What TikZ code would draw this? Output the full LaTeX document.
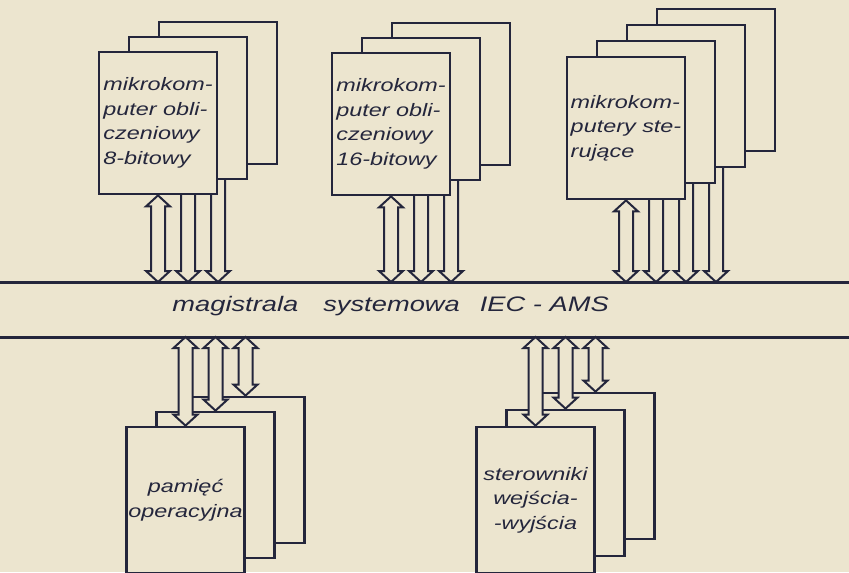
\documentclass[tikz,border=0pt]{standalone}
\usepackage{fontspec}
\newfontfamily\lettering{Liberation Sans}[FakeStretch=1.3]
\usetikzlibrary{calc}
\definecolor{paper}{RGB}{236,229,207}
\definecolor{ink}{RGB}{36,38,60}

\begin{document}
\begin{tikzpicture}[x=0.5pt, y=-0.5pt,
    card/.style={draw=ink, fill=paper, line width=1.4pt, minimum width=59pt,
      minimum height=71pt, inner sep=1pt, align=left,
      text=ink, font=\lettering\itshape\fontsize{9}{12.3}\selectfont},
    lowcard/.style={card, minimum height=73pt, align=center},
    busline/.style={draw=ink, line width=1.5pt},
    hollow/.style={draw=ink, fill=paper, line width=1pt,
      to path={($(\tikztostart)+(-7,11)$) -- ($(\tikztostart)+(-12,11)$)
        -- (\tikztostart) -- ($(\tikztostart)+(12,11)$) -- ($(\tikztostart)+(7,11)$)
        -- ($(\tikztotarget)+(7,-11)$) -- ($(\tikztotarget)+(12,-11)$)
        -- (\tikztotarget) -- ($(\tikztotarget)+(-12,-11)$)
        -- ($(\tikztotarget)+(-7,-11)$) -- cycle}}
  ]
  \fill[paper] (0,0) rectangle (849,572);
  \useasboundingbox (0,0) rectangle (849,572);
  \clip (0,0) rectangle (849,572);

  \coordinate (busN) at (0,282);
  \coordinate (busNe) at (849,282);
  \coordinate (busS) at (0,337);
  \coordinate (busSe) at (849,337);

  \node[card] (m8c) at (218,93) {};
  \draw[hollow] (m8c.south) to (m8c.south |- busN);
  \node[card] (m8b) at ([shift={(-30,15)}]m8c) {};
  \draw[hollow] (m8b.south) to (m8b.south |- busN);
  \node[card] (m8a) at ([shift={(-30,15)}]m8b) {mikrokom-\\puter obli-\\czeniowy\\8-bitowy};
  \draw[hollow] (m8a.south) to (m8a.south |- busN);

  \node[card] (m16c) at (451,94) {};
  \draw[hollow] (m16c.south) to (m16c.south |- busN);
  \node[card] (m16b) at ([shift={(-30,15)}]m16c) {};
  \draw[hollow] (m16b.south) to (m16b.south |- busN);
  \node[card] (m16a) at ([shift={(-30,15)}]m16b) {mikrokom-\\puter obli-\\czeniowy\\16-bitowy};
  \draw[hollow] (m16a.south) to (m16a.south |- busN);

  \node[card] (mstd) at (716,80) {};
  \draw[hollow] (mstd.south) to (mstd.south |- busN);
  \node[card] (mstc) at ([shift={(-30,16)}]mstd) {};
  \draw[hollow] (mstc.south) to (mstc.south |- busN);
  \node[card] (mstb) at ([shift={(-30,16)}]mstc) {};
  \draw[hollow] (mstb.south) to (mstb.south |- busN);
  \node[card] (msta) at ([shift={(-30,16)}]mstb) {mikrokom-\\putery ste-\\rujące};
  \draw[hollow] (msta.south) to (msta.south |- busN);

  \draw[busline] (busN) -- (busNe);
  \draw[busline] (busS) -- (busSe);
  \node[anchor=west, inner sep=0pt, text=ink,
    font=\lettering\itshape\fontsize{10.5}{12}\selectfont] (bus) at (172,306)
    {magistrala\hspace{12.5pt}systemowa\hspace{10pt}IEC - AMS};

  \node[lowcard] (pamc) at (245.5,470) {};
  \draw[hollow] (pamc.north |- busS) to (pamc.north);
  \node[lowcard] (pamb) at ([shift={(-30,15)}]pamc) {};
  \draw[hollow] (pamb.north |- busS) to (pamb.north);
  \node[lowcard] (pama) at ([shift={(-30,15)}]pamb) {pamięć\\operacyjna};
  \draw[hollow] (pama.north |- busS) to (pama.north);

  \node[lowcard] (sterc) at (595.5,466) {};
  \draw[hollow] (sterc.north |- busS) to (sterc.north);
  \node[lowcard] (sterb) at ([shift={(-30,17)}]sterc) {};
  \draw[hollow] (sterb.north |- busS) to (sterb.north);
  \node[lowcard] (stera) at ([shift={(-30,17)}]sterb) {sterowniki\\wejścia-\\-wyjścia};
  \draw[hollow] (stera.north |- busS) to (stera.north);
\end{tikzpicture}
\end{document}
